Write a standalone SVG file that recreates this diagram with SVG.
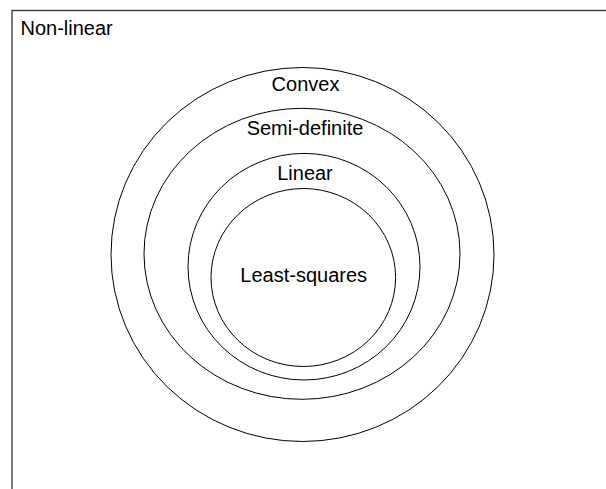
<svg xmlns="http://www.w3.org/2000/svg" width="606" height="489" viewBox="0 0 606 489">
<style>
.shape{fill:none;stroke:#000;stroke-width:1}
.frame{fill:#fff;stroke:#333;stroke-width:1.3}
.lbl{font-family:"Liberation Sans",Arial,sans-serif;font-size:20px;fill:#000}
.mid{text-anchor:middle}
</style>
<rect width="606" height="489" fill="#fff"/>
<g id="nonlinear">
<rect class="frame" x="12" y="10.5" width="620" height="500"/>
<text class="lbl" x="20.5" y="35">Non-linear</text>
</g>
<g id="convex">
<ellipse class="shape" cx="302.5" cy="254.5" rx="191.5" ry="187"/>
<text class="lbl mid" x="305.5" y="90.5">Convex</text>
</g>
<g id="semidefinite">
<ellipse class="shape" cx="302" cy="253.8" rx="158" ry="145.5"/>
<text class="lbl mid" x="305" y="135">Semi-definite</text>
</g>
<g id="linear">
<ellipse class="shape" cx="304" cy="266.7" rx="116" ry="113.3"/>
<text class="lbl mid" x="305" y="180">Linear</text>
</g>
<g id="leastsquares">
<ellipse class="shape" cx="303.3" cy="277.5" rx="92.3" ry="89"/>
<text class="lbl mid" x="303.7" y="281.5">Least-squares</text>
</g>
<g id="connectors"/>
</svg>
